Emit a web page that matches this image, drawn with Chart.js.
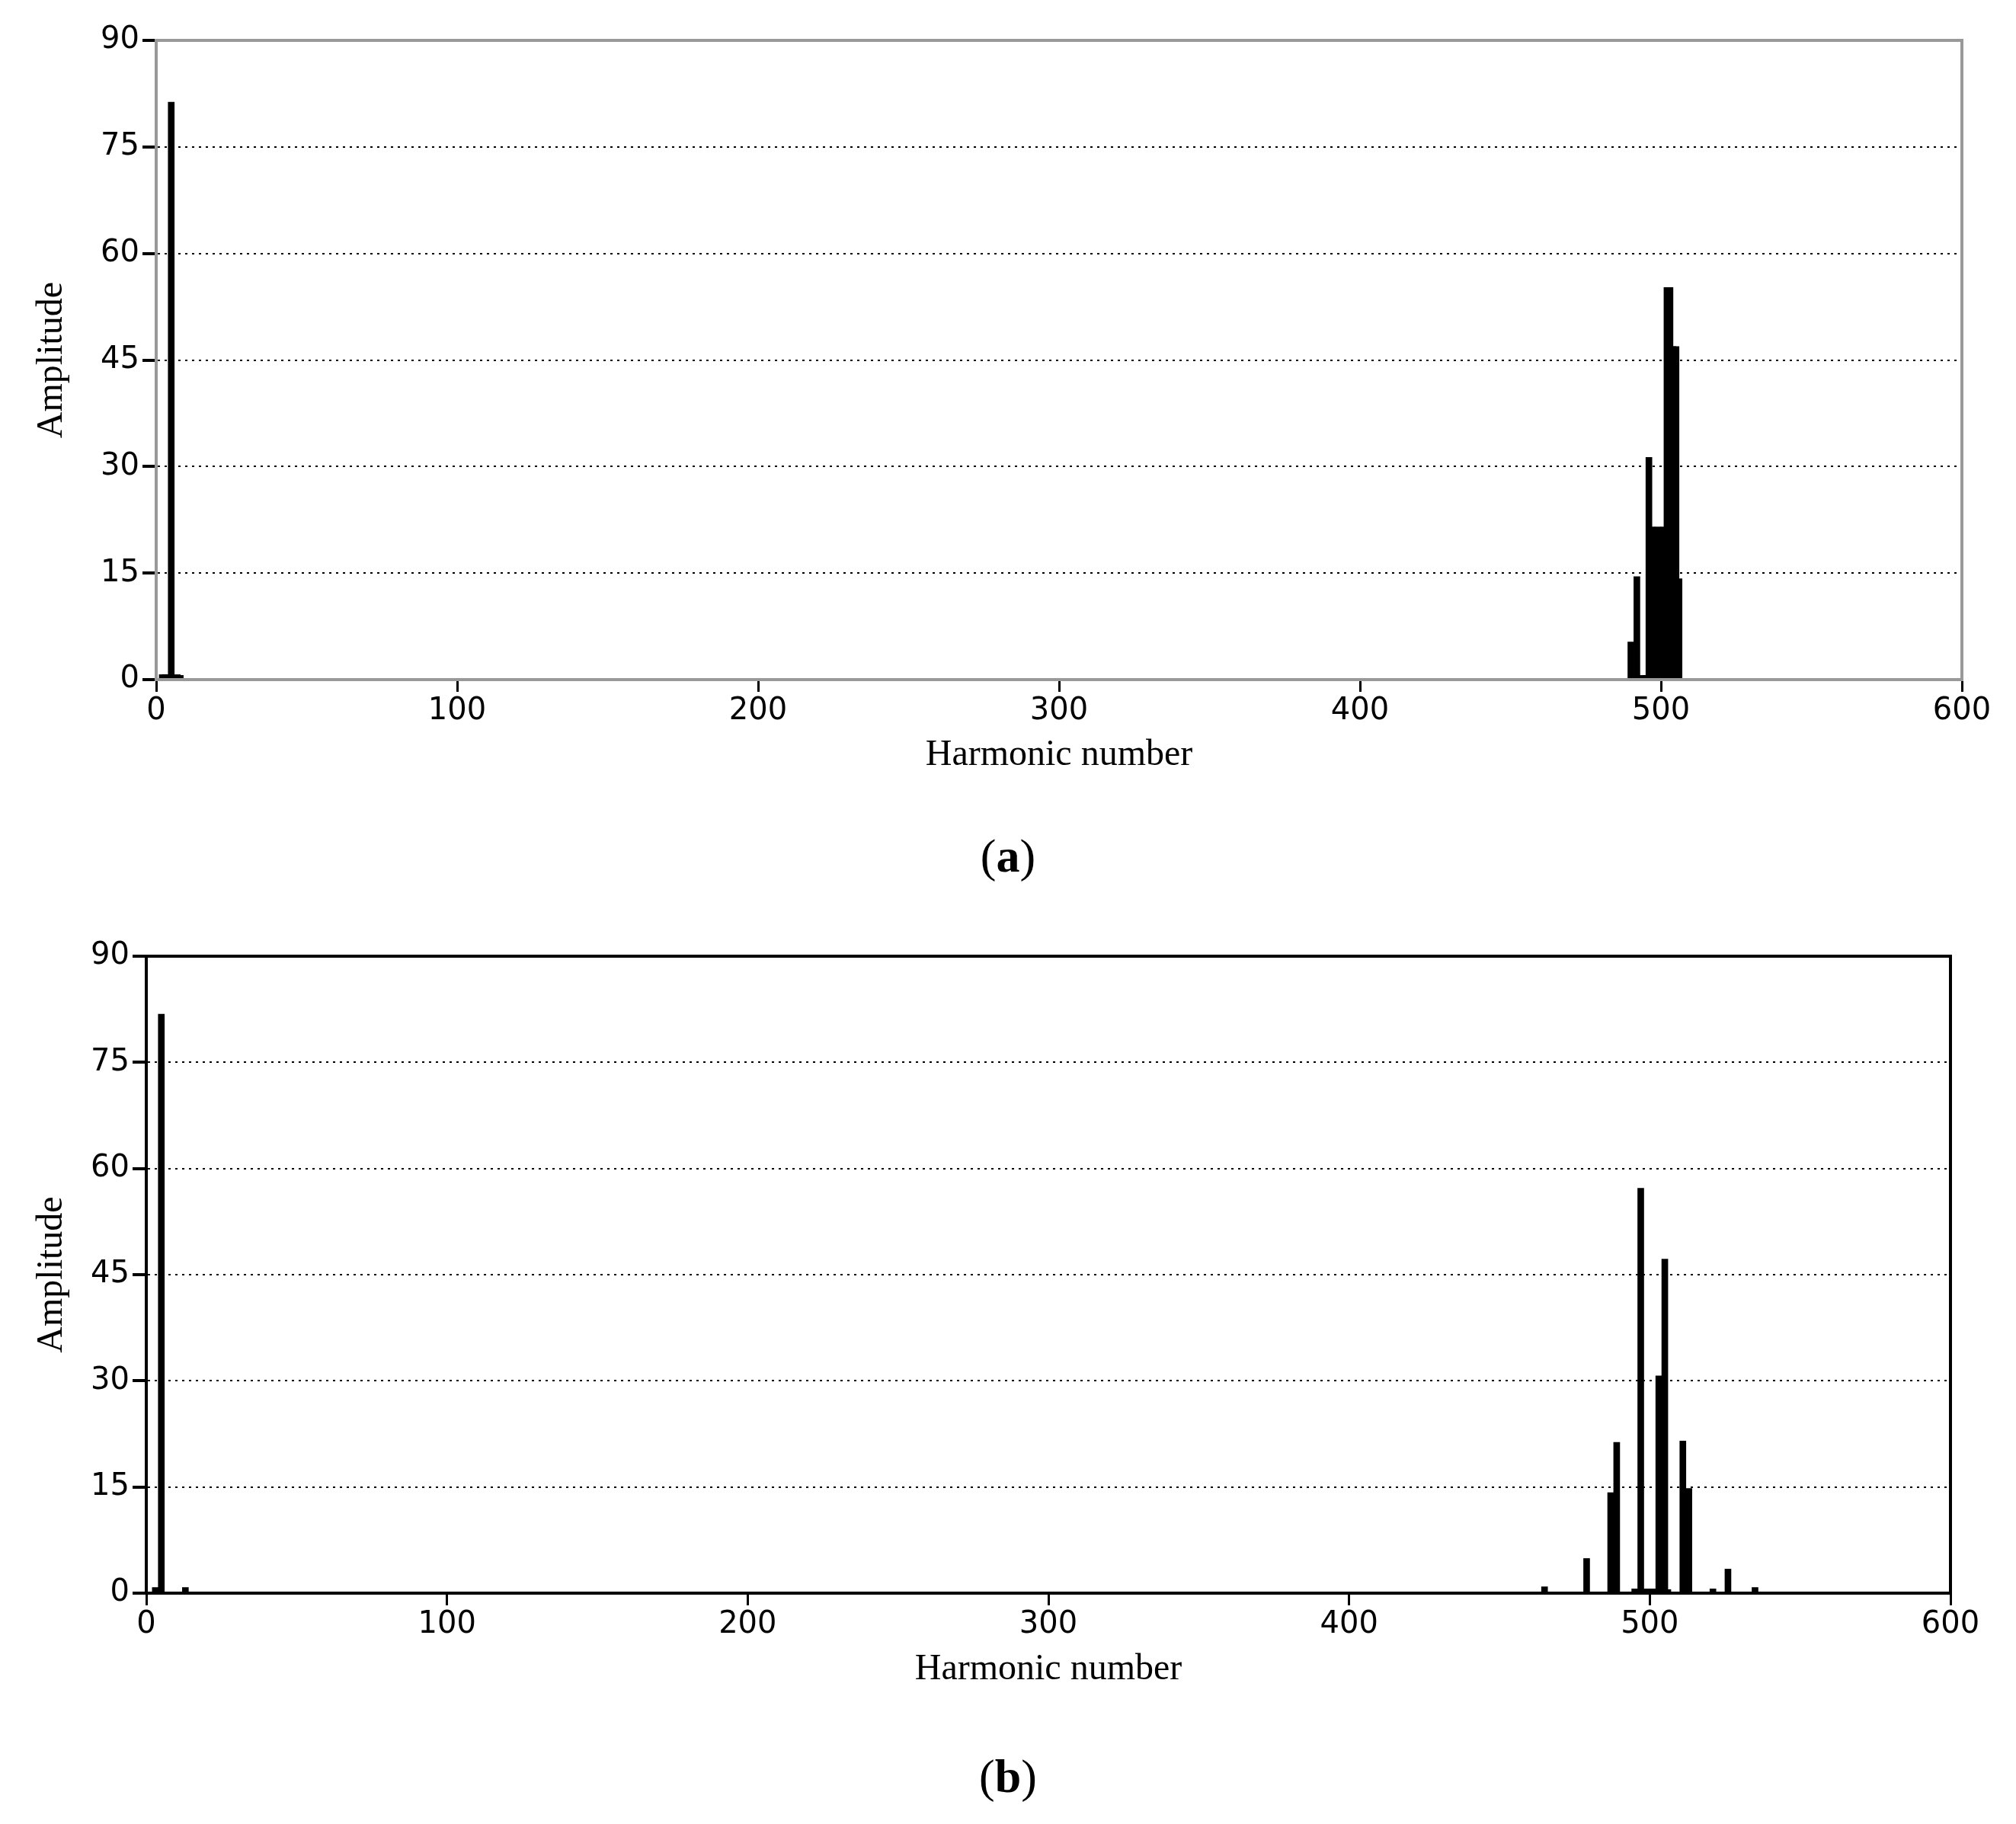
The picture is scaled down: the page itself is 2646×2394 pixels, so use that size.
<!DOCTYPE html>
<html>
<head>
<meta charset="utf-8">
<script src="https://cdn.jsdelivr.net/npm/chart.js@4"></script>
<style>
  body { margin: 0; background: #fff; width: 2646px; height: 2394px; position: relative; }
  canvas { position: absolute; left: 0; }
  .lab { position: absolute; width: 2646px; text-align: center; font-family: "Liberation Serif", serif; font-size: 62px; }
</style>
</head>
<body>
<canvas id="chartA" style="top:0"></canvas>
<div class="lab" style="top:1088px">(<b>a</b>)</div>
<canvas id="chartB" style="top:1180px"></canvas>
<div class="lab" style="top:2296px">(<b>b</b>)</div>
<script>
// harmonic numbers and amplitudes, panel (a)
const harmonicsA = [2, 3, 4, 5, 7, 8, 490, 492, 494, 495, 496, 497, 498, 499, 500, 501, 502, 503, 504, 505, 506];
const amplitudeA = [0.7, 0.7, 0.7, 81.3, 0.7, 0.6, 5.3, 14.5, 0.6, 0.6, 31.3, 21.5, 21.3, 21.5, 21.3, 21.5, 55.2, 55.2, 46.9, 46.9, 14.2];

// harmonic numbers and amplitudes, panel (b)
const harmonicsB = [3, 5, 13, 465, 479, 487, 489, 495, 497, 499, 501, 503, 505, 506, 511, 513, 521, 526, 535];
const amplitudeB = [0.8, 81.8, 0.8, 0.9, 4.9, 14.2, 21.3, 0.6, 57.2, 0.6, 0.6, 30.7, 47.2, 0.5, 21.5, 14.8, 0.6, 3.4, 0.8];

const xTicks = [0, 100, 200, 300, 400, 500, 600];
const yTicks = [0, 15, 30, 45, 60, 75, 90];

const frame = {
  id: 'frame',
  afterDraw(chart, args, opts) {
    const a = chart.chartArea, c = chart.ctx;
    c.save();
    c.strokeStyle = opts.color;
    c.lineWidth = 4;
    c.strokeRect(a.left, a.top, a.right - a.left, a.bottom - a.top);
    c.restore();
  }
};

function makeChart(id, xs, ys, cfg) {
  const cv = document.getElementById(id);
  cv.width = 2646; cv.height = 1060;
  new Chart(cv, {
    type: 'bar',
    data: {
      datasets: [{
        data: xs.map((x, i) => ({ x: x, y: ys[i] })),
        backgroundColor: '#000',
        barThickness: 8
      }]
    },
    plugins: [frame],
    options: {
      responsive: false,
      animation: false,
      layout: { padding: { top: cfg.top, right: cfg.right, left: 40, bottom: cfg.bottom } },
      plugins: { legend: { display: false }, tooltip: { enabled: false }, frame: { color: cfg.border } },
      scales: {
        x: {
          type: 'linear', min: 0, max: 600, offset: false,
          afterBuildTicks: s => { s.ticks = xTicks.map(v => ({ value: v })); },
          afterFit: s => { s.height = cfg.xh; },
          grid: { drawOnChartArea: false, offset: false, color: '#000', tickLength: 16, lineWidth: 3 },
          border: { color: cfg.border, width: 4 },
          ticks: { color: '#000', font: { family: 'DejaVu Sans', size: 40 }, padding: 2 },
          title: { display: true, text: 'Harmonic number', color: '#000', padding: 0,
                   font: { family: 'Liberation Serif', size: 48 } }
        },
        y: {
          min: 0, max: 90,
          afterBuildTicks: s => { s.ticks = yTicks.map(v => ({ value: v })); },
          afterFit: s => { s.width = cfg.left - 40; },
          grid: { color: '#000', lineWidth: 2, tickBorderDash: [],
                  tickColor: '#000', tickWidth: 4, tickLength: 18 },
          border: { color: cfg.border, width: 4, dash: [3, 6] },
          ticks: { color: '#000', font: { family: 'DejaVu Sans', size: 40 }, padding: 4 },
          title: { display: true, text: 'Amplitude', color: '#000', padding: 0,
                   font: { family: 'Liberation Serif', size: 48 } }
        }
      }
    }
  });
}

makeChart('chartA', harmonicsA, amplitudeA, { top: 53, right: 71, left: 205, xh: 128, bottom: 40, border: '#999' });
makeChart('chartB', harmonicsB, amplitudeB, { top: 75, right: 86, left: 192, xh: 129, bottom: 20, border: '#000' });
</script>
</body>
</html>
